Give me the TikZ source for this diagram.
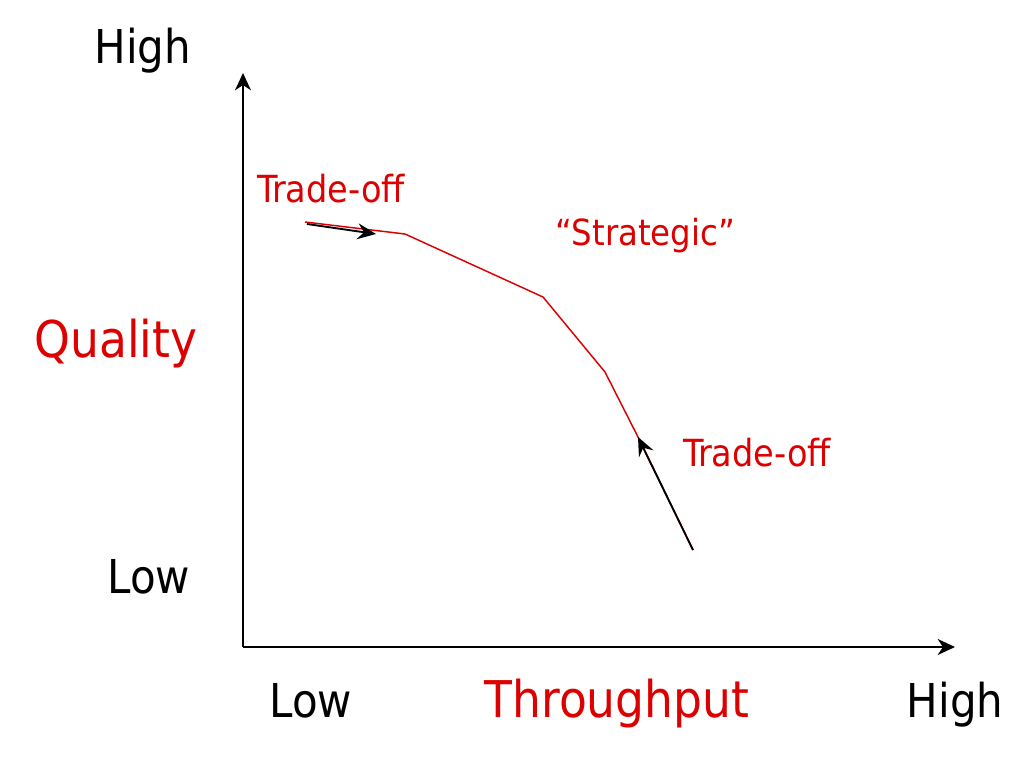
\documentclass[tikz,border=0pt]{standalone}
\usepackage{fontspec}
\setmainfont{DejaVu Sans Condensed}
\usetikzlibrary{arrows.meta}
\definecolor{qred}{RGB}{221,0,0}
\begin{document}
\begin{tikzpicture}[x=0.75pt,y=-0.75pt,
  lbl/.style={anchor=base,inner sep=0pt,font=\fontsize{35pt}{39pt}\selectfont},
  biglbl/.style={anchor=base,inner sep=0pt,text=qred,font=\fontsize{38pt}{42pt}\selectfont},
  smalllbl/.style={anchor=base,inner sep=0pt,text=qred,font=\fontsize{28pt}{32pt}\selectfont},
  axis/.style={draw=black,line width=1.2pt,-{Stealth[length=13pt,width=12pt,inset=4pt]}},
  curve/.style={draw=qred,line width=1.1pt,line join=round},
  tarrow/.style={draw=black,line width=1.4pt,-{Stealth[length=14pt,width=12pt,inset=5pt]}}]
\useasboundingbox[fill=white] (0,0) rectangle (1036,757);
% axes
\coordinate (o) at (243,647);
\coordinate (ytop) at (243,73);
\coordinate (xend) at (955,647);
\draw[axis] (o) -- (ytop);
\draw[axis] (o) -- (xend);
% labels
\node[lbl] (yhigh) at (143,63) {High};
\node[lbl] (ylow) at (149,593) {Low};
\node[biglbl] (yq) at (116,357) {Quality};
\node[lbl] (xlow) at (311,717) {Low};
\node[biglbl] (xt) at (617,717) {Throughput};
\node[lbl] (xhigh) at (955,717) {High};
\node[smalllbl] (t1) at (331,202) {Trade-off};
\node[smalllbl,font=\fontsize{27pt}{31pt}\selectfont] (st) at (645,245) {“Strategic”};
\node[smalllbl] (t2) at (757,466) {Trade-off};
% curve
\coordinate (c0) at (305,222);
\coordinate (c1) at (405,234);
\coordinate (c2) at (543,297);
\coordinate (c3) at (605,372);
\coordinate (c4) at (638,437);
\coordinate (c5) at (693,550);
\draw[curve] (c0) -- (c1) -- (c2) -- (c3) -- (c4) -- (c5);
% trade-off arrows
\coordinate (a1s) at (307,224);
\coordinate (a1e) at (376,234);
\draw[tarrow] (a1s) -- (a1e);
\draw[tarrow] (c5) -- (c4);
\end{tikzpicture}
\end{document}
